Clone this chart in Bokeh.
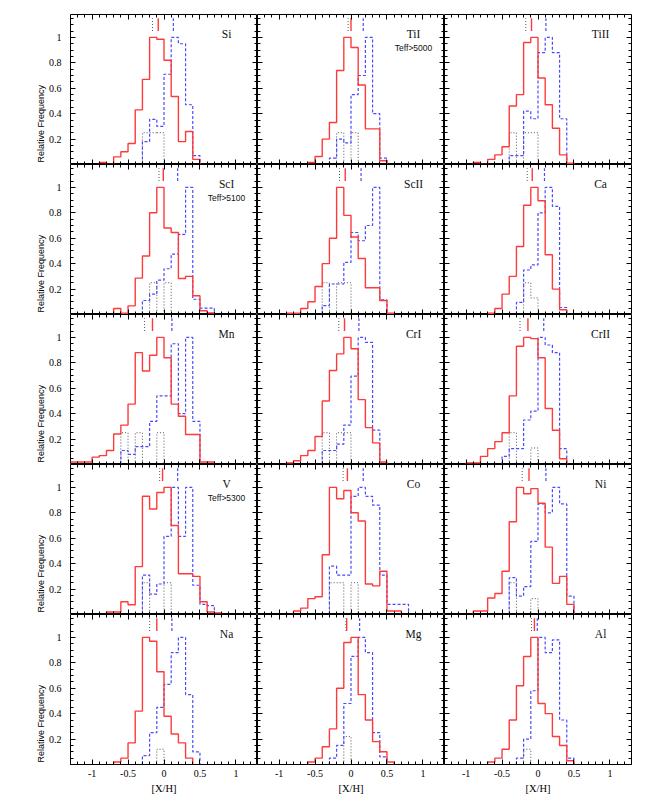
import numpy as np
from bokeh.plotting import figure
from bokeh.layouts import gridplot
from bokeh.models import LinearAxis, FixedTicker, CustomJSTickFormatter, Range1d, Label, Title
from bokeh.core.properties import value
from bokeh.embed import file_html
from bokeh.resources import INLINE

# ---------------- data (bin width 0.1 dex; each series: first bin left edge, relative frequencies) -------------
BIN = 0.1
x_ticks = [-1, -0.5, 0, 0.5, 1]
y_ticks = [0.2, 0.4, 0.6, 0.8, 1.0]

si_red_start, si_red = -0.9, [0.016, 0, 0.06, 0.10, 0.165, 0.43, 0.67, 1.0, 0.985, 0.82, 0.535, 0.18, 0.26, 0.04]
si_blue_start, si_blue = -0.3, [0.18, 0.355, 0.30, 0.71, 1.0, 0.95, 0.47, 0.07]
si_black_start, si_black = -0.3, [0.25, 0.25, 0.25]
si_means = [-0.08, 0.13, -0.16]  # red, blue, black

tii_red_start, tii_red = -0.6, [0.016, 0.063, 0.20, 0.33, 0.74, 1.0, 0.92, 0.625, 0.28, 0.28, 0.03]
tii_blue_start, tii_blue = -0.3, [0.05, 0.20, 0.17, 0.55, 0.70, 1.0, 0.40, 0.05]
tii_black_start, tii_black = -0.2, [0.25, 0, 0.25]
tii_means = [0.0, 0.17, -0.04]

tiii_red_start, tiii_red = -0.9, [0.016, 0, 0.04, 0.076, 0.14, 0.46, 0.55, 0.96, 1.0, 0.68, 0.47, 0.285, 0.076, 0.01]
tiii_blue_start, tiii_blue = -0.4, [0.07, 0.07, 0.42, 0.36, 0.88, 1.0, 0.88, 0.36]
tiii_black_start, tiii_black = -0.4, [0.25, 0, 0.25, 0.25]
tiii_means = [-0.09, 0.11, -0.17]

sci_red_start, sci_red = -0.7, [0.047, 0.01, 0.068, 0.286, 0.46, 0.80, 1.0, 0.68, 0.645, 0.283, 0.30, 0.147, 0.03, 0.013]
sci_blue_start, sci_blue = -0.3, [0.11, 0.16, 0.27, 0.36, 0.475, 0.63, 1.0, 0.12, 0.05, 0.05]
sci_black_start, sci_black = -0.2, [0.25, 0, 0.25]
sci_means = [-0.01, 0.19, -0.07]

scii_red_start, scii_red = -0.9, [0.01, 0.01, 0.047, 0.10, 0.22, 0.40, 0.60, 1.0, 0.78, 0.61, 0.44, 0.21, 0.21, 0.11, 0.01]
scii_blue_start, scii_blue = -0.4, [0.07, 0.24, 0.24, 0.41, 0.645, 0.58, 0.70, 1.0, 0.115]
scii_black_start, scii_black = -0.4, [0.25, 0, 0.25, 0.25]
scii_means = [-0.08, 0.14, -0.16]

ca_red_start, ca_red = -0.7, [0.01, 0.047, 0.16, 0.30, 0.535, 0.86, 1.0, 0.895, 0.47, 0.20, 0.037]
ca_blue_start, ca_blue = -0.3, [0.095, 0.35, 0.39, 0.80, 1.0, 0.85, 0.055]
ca_black_start, ca_black = -0.2, [0.25, 0.13]
ca_means = [-0.08, 0.09, -0.15]

mn_red_start, mn_red = -1.3, [0.02, 0.02, 0.02, 0.058, 0.07, 0.11, 0.24, 0.31, 0.475, 0.88, 0.735, 0.86, 1.0, 0.84, 0.475, 0.38, 0.236, 0.236, 0.02, 0.02]
mn_blue_start, mn_blue = -0.6, [0.11, 0.08, 0.14, 0.14, 0.34, 0.54, 0.54, 0.95, 0.40, 1.0, 0.34]
mn_black_start, mn_black = -0.6, [0.25, 0, 0.25, 0, 0, 0.25]
mn_means = [-0.16, 0.11, -0.27]

cri_red_start, cri_red = -0.9, [0.013, 0.03, 0.07, 0.11, 0.22, 0.50, 0.74, 0.87, 1.0, 0.91, 0.51, 0.29, 0.17, 0.02]
cri_blue_start, cri_blue = -0.4, [0.11, 0.11, 0.16, 0.31, 0.695, 1.0, 0.96, 0.27]
cri_black_start, cri_black = -0.4, [0.25, 0, 0.25, 0.25]
cri_means = [-0.09, 0.11, -0.17]

crii_red_start, crii_red = -1.0, [0.013, 0.013, 0.064, 0.125, 0.18, 0.25, 0.54, 0.93, 1.0, 0.99, 0.84, 0.44, 0.27, 0.045]
crii_blue_start, crii_blue = -0.5, [0.064, 0.125, 0.125, 0.35, 0.42, 1.0, 0.94, 0.88, 0.125]
crii_black_start, crii_black = -0.4, [0.25, 0, 0, 0.13]
crii_means = [-0.14, 0.08, -0.25]

v_red_start, v_red = -0.8, [0.02, 0.02, 0.10, 0.077, 0.377, 0.93, 0.83, 0.96, 1.0, 0.70, 0.32, 0.32, 0.30, 0.10, 0.02, 0.013]
v_blue_start, v_blue = -0.3, [0.31, 0.16, 0.24, 0.615, 1.0, 0.615, 1.0, 0.23, 0.08, 0.07]
v_black_start, v_black = -0.3, [0.25, 0, 0, 0.25]
v_means = [-0.02, 0.19, -0.06]

co_red_start, co_red = -0.8, [0.027, 0.05, 0.125, 0.14, 0.47, 1.0, 0.91, 0.975, 0.80, 0.735, 0.24, 0.225, 0.34, 0.027, 0.027]
co_blue_start, co_blue = -0.3, [0.38, 0.31, 0.31, 0.93, 1.0, 0.93, 0.86, 0.31, 0.08, 0.08, 0.08]
co_black_start, co_black = -0.3, [0.25, 0.25, 0, 0.25]
co_means = [-0.05, 0.17, -0.11]

ni_red_start, ni_red = -0.9, [0.027, 0.027, 0.13, 0.165, 0.34, 0.73, 1.0, 0.95, 0.99, 0.875, 0.53, 0.245, 0.30, 0.08]
ni_blue_start, ni_blue = -0.4, [0.29, 0.145, 0.22, 0.575, 0.87, 0.80, 1.0, 0.87, 0.145]
ni_black_start, ni_black = -0.4, [0.25, 0, 0, 0.125]
ni_means = [-0.125, 0.11, -0.22]

na_red_start, na_red = -0.7, [0.02, 0.05, 0.17, 0.42, 1.0, 0.97, 0.73, 0.38, 0.24, 0.17, 0.05]
na_blue_start, na_blue = -0.3, [0.07, 0.25, 0.45, 0.63, 0.88, 1.0, 0.55, 0.10]
na_black_start, na_black = -0.1, [0.12]
na_means = [-0.10, 0.11, -0.20]

mg_red_start, mg_red = -0.6, [0.02, 0.05, 0.14, 0.28, 0.60, 0.96, 1.0, 0.55, 0.35, 0.18, 0.10, 0.02]
mg_blue_start, mg_blue = -0.3, [0.05, 0.15, 0.48, 0.85, 1.0, 0.88, 0.25, 0.06]
mg_black_start, mg_black = -0.1, [0.22]
mg_means = [-0.06, 0.12, -0.07]

al_red_start, al_red = -0.7, [0.02, 0.05, 0.12, 0.35, 0.62, 0.85, 1.0, 0.48, 0.40, 0.22, 0.15, 0.03]
al_blue_start, al_blue = -0.3, [0.05, 0.20, 0.58, 1.0, 0.88, 0.98, 0.35, 0.05]
al_black_start, al_black = -0.2, [0.12]
al_means = [-0.05, -0.01, -0.09]

panels = [
    ("Si", None, (si_red_start, si_red), (si_blue_start, si_blue), (si_black_start, si_black), si_means),
    ("TiI", "Teff>5000", (tii_red_start, tii_red), (tii_blue_start, tii_blue), (tii_black_start, tii_black), tii_means),
    ("TiII", None, (tiii_red_start, tiii_red), (tiii_blue_start, tiii_blue), (tiii_black_start, tiii_black), tiii_means),
    ("ScI", "Teff>5100", (sci_red_start, sci_red), (sci_blue_start, sci_blue), (sci_black_start, sci_black), sci_means),
    ("ScII", None, (scii_red_start, scii_red), (scii_blue_start, scii_blue), (scii_black_start, scii_black), scii_means),
    ("Ca", None, (ca_red_start, ca_red), (ca_blue_start, ca_blue), (ca_black_start, ca_black), ca_means),
    ("Mn", None, (mn_red_start, mn_red), (mn_blue_start, mn_blue), (mn_black_start, mn_black), mn_means),
    ("CrI", None, (cri_red_start, cri_red), (cri_blue_start, cri_blue), (cri_black_start, cri_black), cri_means),
    ("CrII", None, (crii_red_start, crii_red), (crii_blue_start, crii_blue), (crii_black_start, crii_black), crii_means),
    ("V", "Teff>5300", (v_red_start, v_red), (v_blue_start, v_blue), (v_black_start, v_black), v_means),
    ("Co", None, (co_red_start, co_red), (co_blue_start, co_blue), (co_black_start, co_black), co_means),
    ("Ni", None, (ni_red_start, ni_red), (ni_blue_start, ni_blue), (ni_black_start, ni_black), ni_means),
    ("Na", None, (na_red_start, na_red), (na_blue_start, na_blue), (na_black_start, na_black), na_means),
    ("Mg", None, (mg_red_start, mg_red), (mg_blue_start, mg_blue), (mg_black_start, mg_black), mg_means),
    ("Al", None, (al_red_start, al_red), (al_blue_start, al_blue), (al_black_start, al_black), al_means),
]

# ---------------- styling ----------------
X0, X1 = -1.3, 1.3
Y0, Y1 = 0.0, 1.18
FW, FH = 187, 150
RED, BLUE, BLACK = "#ff3a3a", "#4a4aff", "#555555"
SERIF = "Liberation Serif"
SANS = "Liberation Sans"
x_minor = [round(v, 2) for v in np.arange(-1.3, 1.31, 0.1)]
y_minor = [round(v, 2) for v in np.arange(0.0, 1.17, 0.05)]


def step_xy(start, vals):
    n = len(vals)
    edges = np.round(start + BIN * np.arange(n + 1), 3)
    xs = np.concatenate([[edges[0]], edges])
    ys = np.concatenate([[0.0], np.asarray(vals, float), [0.0]])
    return xs, ys


def make_axis(kind, loc, show):
    ticker = FixedTicker(ticks=x_ticks if kind == "x" else y_ticks,
                         minor_ticks=x_minor if kind == "x" else y_minor)
    if show:
        ax = LinearAxis(ticker=ticker)
    else:
        ax = LinearAxis(ticker=ticker, fixed_location=loc)
    ax.major_tick_in = 5
    ax.major_tick_out = 0
    ax.minor_tick_in = 3
    ax.minor_tick_out = 0
    ax.major_tick_line_color = "black"
    ax.minor_tick_line_color = "black"
    ax.axis_line_color = None
    if show:
        ax.formatter = CustomJSTickFormatter(code="return String(tick)")
        ax.major_label_text_font = SERIF
        ax.major_label_text_font_size = "10px"
        ax.major_label_text_color = "black"
        ax.major_label_standoff = 9 if kind == "y" else 5
        if kind == "x":
            ax.axis_label = "[X/H]"
            ax.axis_label_text_font = SERIF
            ax.axis_label_text_font_size = "10.5px"
            ax.axis_label_standoff = 3
            ax.axis_label_text_font_style = "normal"
            ax.axis_label_text_color = "black"
    else:
        ax.formatter = CustomJSTickFormatter(code="return ''")
    return ax


rows = []
for i, (name, note, red, blue, black, means) in enumerate(panels):
    r, c = divmod(i, 3)
    p = figure(frame_width=FW, frame_height=FH,
               x_range=Range1d(X0, X1), y_range=Range1d(Y0, Y1),
               output_backend="svg", toolbar_location=None,
               x_axis_location=None, y_axis_location=None,
               min_border_left=70 if c == 0 else 0,
               min_border_right=12 if c == 2 else 0,
               min_border_top=14 if r == 0 else 0,
               min_border_bottom=36 if r == 4 else 0)
    for g in p.grid:
        g.visible = False
    p.outline_line_color = "black"
    p.outline_line_width = 1
    p.background_fill_color = "white"
    p.border_fill_color = "white"

    p.add_layout(make_axis("x", Y0, r == 4), "below")
    p.add_layout(make_axis("x", Y1, False), "above")
    p.add_layout(make_axis("y", X0, c == 0), "left")
    p.add_layout(make_axis("y", X1, False), "right")
    if c == 0:
        p.add_layout(Title(text="Relative Frequency", align="left", offset=2, standoff=0,
                           text_font=SANS, text_font_size="9px", text_font_style="normal",
                           text_color="black"), "left")

    xs, ys = step_xy(*black)
    p.step(xs, ys, mode="after", line_color=BLACK, line_width=1, line_dash="1 2")
    xs, ys = step_xy(*blue)
    p.step(xs, ys, mode="after", line_color=BLUE, line_width=1.2, line_dash="3 2")
    xs, ys = step_xy(*red)
    p.step(xs, ys, mode="after", line_color=RED, line_width=1.4)

    m_red, m_blue, m_black = means
    p.segment(x0=[m_black], y0=[1.05], x1=[m_black], y1=[1.15], line_color=BLACK, line_width=1, line_dash="1 2")
    p.segment(x0=[m_blue], y0=[1.05], x1=[m_blue], y1=[1.15], line_color=BLUE, line_width=1.2, line_dash="3 2")
    p.segment(x0=[m_red], y0=[1.05], x1=[m_red], y1=[1.15], line_color=RED, line_width=1.4)

    p.add_layout(Label(x=0.87, y=1.03, text=name, text_font=SERIF, text_font_size="11.5px",
                       text_align="center", text_baseline="middle", text_color="#111111"))
    if note:
        p.add_layout(Label(x=0.87, y=0.92, text=note, text_font=SANS, text_font_size="8.5px",
                           text_align="center", text_baseline="middle", text_color="#111111"))
    if c == 0:
        rows.append([])
    rows[-1].append(p)

grid = gridplot(rows, toolbar_location=None)
open("out.html", "w").write(file_html(grid, INLINE))
